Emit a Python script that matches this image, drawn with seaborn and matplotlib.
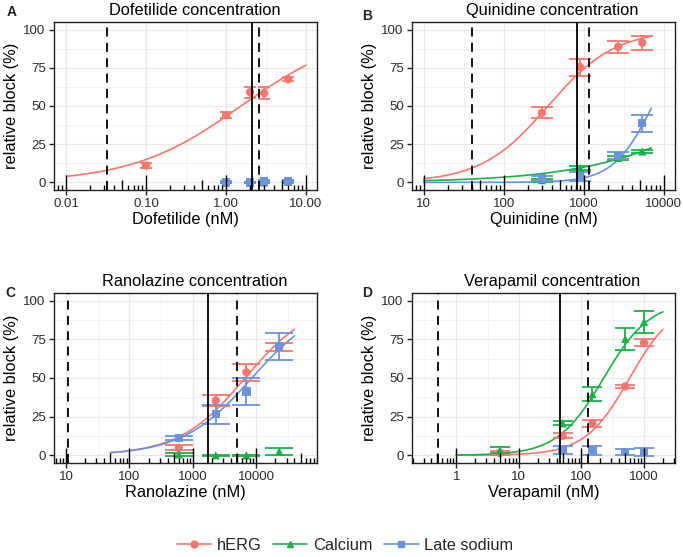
import numpy as np
import pandas as pd
import matplotlib
matplotlib.use("Agg")
import matplotlib.pyplot as plt
from matplotlib.lines import Line2D
from matplotlib.ticker import FixedLocator, FixedFormatter, NullFormatter
import seaborn as sns

sns.set_theme(style="white")
plt.rcParams['font.family'] = ['Liberation Sans', 'DejaVu Sans']

# -----------------------------
# Data
# -----------------------------

channels = ["hERG", "Calcium", "Late sodium"]
palette = {"hERG": "#F8766D", "Calcium": "#1DB04A", "Late sodium": "#6A93DB"}
marks = {"hERG": "o", "Calcium": "^", "Late sodium": "s"}

# Dofetilide
dof_conc = {"hERG": [0.1, 1, 2, 3, 6], "Calcium": [1, 2, 3, 6], "Late sodium": [1, 2, 3, 6]}
dof_mean = {"hERG": [11, 44, 59, 58.5, 67.5], "Calcium": [0, 0, 0, 0.8], "Late sodium": [0, 0, 0.5, 0.5]}
dof_err = {"hERG": [1.5, 1.8, 3.6, 3.7, 1.2], "Calcium": [0.5, 0.5, 0.5, 0.8], "Late sodium": [0.6, 0.5, 0.8, 0.6]}
dof_fit = {"hERG": (1.54, 0.636)}          # IC50 (nM), Hill coefficient
dof_curve_range = (0.01, 10)
dof_dashed = [0.033, 2.6]
dof_solid = [2.13]
dof_ticks = [0.01, 0.1, 1, 10]
dof_ticklabels = ["0.01", "0.10", "1.00", "10.00"]

# Quinidine
qui_conc = {"hERG": [300, 900, 2700, 5400], "Calcium": [300, 900, 2700, 5400], "Late sodium": [300, 900, 2700, 5400]}
qui_mean = {"hERG": [45.5, 75.5, 88.7, 91.5], "Calcium": [1.5, 9.5, 16, 20.3], "Late sodium": [2.5, 4, 17.4, 38.7]}
qui_err = {"hERG": [3.6, 5.6, 4.1, 4.6], "Calcium": [1, 1.5, 1.5, 1.2], "Late sodium": [1.5, 3, 2.2, 5.5]}
qui_fit = {"hERG": (358, 1.036), "Calcium": (84000, 0.497), "Late sodium": (7240, 1.76)}
qui_curve_range = (10, 7000)
qui_dashed = [40, 1155]
qui_solid = [826]
qui_ticks = [10, 100, 1000, 10000]
qui_ticklabels = ["10", "100", "1000", "10000"]

# Ranolazine
ran_conc = {"hERG": [600, 2300, 7000, 23000], "Calcium": [600, 2300, 7000, 23000], "Late sodium": [600, 2300, 7000, 23000]}
ran_mean = {"hERG": [4.8, 35.4, 53.7, 70], "Calcium": [0.6, 0, 0, 2.5], "Late sodium": [11.3, 26.5, 41.3, 70.4]}
ran_err = {"hERG": [1.7, 3.6, 5.5, 2.6], "Calcium": [1, 0.5, 0.5, 2], "Late sodium": [1.3, 6, 8.9, 8.9]}
ran_fit = {"hERG": (6690, 0.829), "Late sodium": (8530, 0.79)}
ran_curve_range = (50, 40000)
ran_dashed = [10.9, 4950]
ran_solid = [1725]
ran_ticks = [10, 100, 1000, 10000]
ran_ticklabels = ["10", "100", "1000", "10000"]

# Verapamil
ver_conc = {"hERG": [5, 50, 150, 500, 1000], "Calcium": [5, 50, 150, 500, 1000], "Late sodium": [50, 150, 500, 1000]}
ver_mean = {"hERG": [1.5, 12.6, 20.7, 44.6, 72.8], "Calcium": [3.3, 20.7, 39.6, 75.4, 86.3], "Late sodium": [3.3, 3.3, 2.2, 2.2]}
ver_err = {"hERG": [1, 1.6, 2.2, 0.8, 2.4], "Calcium": [1.8, 1.3, 4.7, 7, 7.3], "Late sodium": [2.5, 3, 2, 2.5]}
ver_fit = {"hERG": (590, 1.214), "Calcium": (227, 1.175)}
ver_curve_range = (1, 2000)
ver_dashed = [0.52, 128]
ver_solid = [45]
ver_ticks = [1, 10, 100, 1000]
ver_ticklabels = ["1", "10", "100", "1000"]

# -----------------------------
# Panel layout (pixels: left, top, width, height)
# -----------------------------

W, H = 683, 557

panels = [
    dict(letter="A", drug="Dofetilide", conc=dof_conc, mean=dof_mean, err=dof_err, fit=dof_fit,
         crange=dof_curve_range, dashed=dof_dashed, solid=dof_solid, ticks=dof_ticks,
         ticklabels=dof_ticklabels, xlim=(10 ** -2.15, 10 ** 1.1375), cap=4.2,
         box=(54, 22, 263, 168), letter_xy=(12, 12)),
    dict(letter="B", drug="Quinidine", conc=qui_conc, mean=qui_mean, err=qui_err, fit=qui_fit,
         crange=qui_curve_range, dashed=qui_dashed, solid=qui_solid, ticks=qui_ticks,
         ticklabels=qui_ticklabels, xlim=(10 ** 0.854, 10 ** 4.141), cap=7.8,
         box=(412, 22, 263, 168), letter_xy=(367, 16)),
    dict(letter="C", drug="Ranolazine", conc=ran_conc, mean=ran_mean, err=ran_err, fit=ran_fit,
         crange=ran_curve_range, dashed=ran_dashed, solid=ran_solid, ticks=ran_ticks,
         ticklabels=ran_ticklabels, xlim=(10 ** 0.81, 10 ** 4.958), cap=9.8,
         box=(54, 293, 263, 170), letter_xy=(10, 293)),
    dict(letter="D", drug="Verapamil", conc=ver_conc, mean=ver_mean, err=ver_err, fit=ver_fit,
         crange=ver_curve_range, dashed=ver_dashed, solid=ver_solid, ticks=ver_ticks,
         ticklabels=ver_ticklabels, xlim=(10 ** -0.707, 10 ** 3.495), cap=7.2,
         box=(412, 293, 263, 170), letter_xy=(367, 293)),
]


def hill(conc, ic50, n):
    return 100.0 / (1.0 + (ic50 / conc) ** n)


def log_ticks(ax, xlim, height_px):
    # ggplot-style annotation_logticks along the bottom
    lo, hi = np.log10(xlim[0]), np.log10(xlim[1])
    trans = ax.get_xaxis_transform()
    for k in range(int(np.floor(lo)), int(np.ceil(hi)) + 1):
        for m in range(1, 10):
            x = m * 10.0 ** k
            if lo <= np.log10(x) <= hi:
                ln = 15 if m == 1 else (10 if m == 5 else 5)
                ax.plot([x, x], [0, ln / height_px], transform=trans,
                        color="black", lw=1.0, solid_capstyle="butt", zorder=6)


fig = plt.figure(figsize=(W / 100, H / 100), dpi=100)

for p in panels:
    left, top, w, h = p["box"]
    ax = fig.add_axes([left / W, 1 - (top + h) / H, w / W, h / H])

    # points table
    rows = []
    for ch in channels:
        for c, m, e in zip(p["conc"][ch], p["mean"][ch], p["err"][ch]):
            rows.append((ch, c, m, e))
    pts = pd.DataFrame(rows, columns=["channel", "conc", "block", "err"])

    # fitted curves
    curve_rows = []
    grid = np.geomspace(p["crange"][0], p["crange"][1], 300)
    for ch in channels:
        if ch in p["fit"]:
            ic50, n = p["fit"][ch]
            for x in grid:
                curve_rows.append((ch, x, hill(x, ic50, n)))
    curves = pd.DataFrame(curve_rows, columns=["channel", "conc", "block"])

    ax.set_xscale("log")
    ax.set_xlim(*p["xlim"])
    ax.set_ylim(-5, 105)

    sns.lineplot(data=curves, x="conc", y="block", hue="channel", palette=palette,
                 hue_order=channels, lw=1.2, legend=False, ax=ax, zorder=3)

    for ch in channels:
        d = pts[pts["channel"] == ch]
        ax.errorbar(d["conc"], d["block"], yerr=d["err"], fmt="none",
                    ecolor=palette[ch], elinewidth=1.3, capsize=p["cap"],
                    capthick=1.3, zorder=4)

    sns.scatterplot(data=pts, x="conc", y="block", hue="channel", style="channel",
                    palette=palette, markers=marks, hue_order=channels, style_order=channels,
                    s=36, linewidth=0, legend=False, ax=ax, zorder=5)

    for x in p["dashed"]:
        ax.axvline(x, color="black", lw=1.3, linestyle=(0, (5, 3.5)), zorder=7)
    for x in p["solid"]:
        ax.axvline(x, color="black", lw=1.3, zorder=7)

    log_ticks(ax, p["xlim"], h)

    # axes cosmetics
    ax.xaxis.set_major_locator(FixedLocator(p["ticks"]))
    ax.xaxis.set_major_formatter(FixedFormatter(p["ticklabels"]))
    lo, hi = np.log10(p["xlim"])
    minors = [10 ** (k + 0.5) for k in range(int(np.floor(lo)), int(np.ceil(hi)) + 1)]
    ax.xaxis.set_minor_locator(FixedLocator(minors))
    ax.xaxis.set_minor_formatter(NullFormatter())
    ax.yaxis.set_major_locator(FixedLocator([0, 25, 50, 75, 100]))
    ax.yaxis.set_minor_locator(FixedLocator([12.5, 37.5, 62.5, 87.5]))
    ax.grid(which="major", color="#E8E8E8", lw=0.9, zorder=0)
    ax.grid(which="minor", color="#F0F0F0", lw=0.6, zorder=0)
    ax.set_axisbelow(True)
    ax.tick_params(which="major", bottom=True, left=True, direction="out", length=3.5,
                   width=1.0, color="#222222", labelsize=9.5, labelcolor="#2A2A2A", pad=2.5)
    ax.tick_params(which="minor", length=0)
    for s in ax.spines.values():
        s.set_color("#222222")
        s.set_linewidth(1.0)

    ax.set_xlabel(p["drug"] + " (nM)", fontsize=11.8, color="black", labelpad=1.5)
    ax.set_ylabel("relative block (%)", fontsize=11.8, color="black", labelpad=3)
    ax.set_title(p["drug"] + " concentration", fontsize=11.8, color="black",
                 x=0.5 + 9 / w, pad=5)

    lx, ly = p["letter_xy"]
    fig.text(lx / W, 1 - ly / H, p["letter"], fontsize=10, fontweight="bold",
             ha="center", va="center")

# -----------------------------
# Legend
# -----------------------------

handles = [Line2D([0], [0], color=palette[ch], marker=marks[ch], markersize=5,
                  lw=1.2, label=ch) for ch in channels]
fig.legend(handles=handles, loc="center", bbox_to_anchor=(345 / W, 1 - 545 / H),
           ncol=3, frameon=False, fontsize=11.8, handlelength=2.1,
           handletextpad=0.35, columnspacing=0.7)

fig.savefig("out.png", dpi=100)
